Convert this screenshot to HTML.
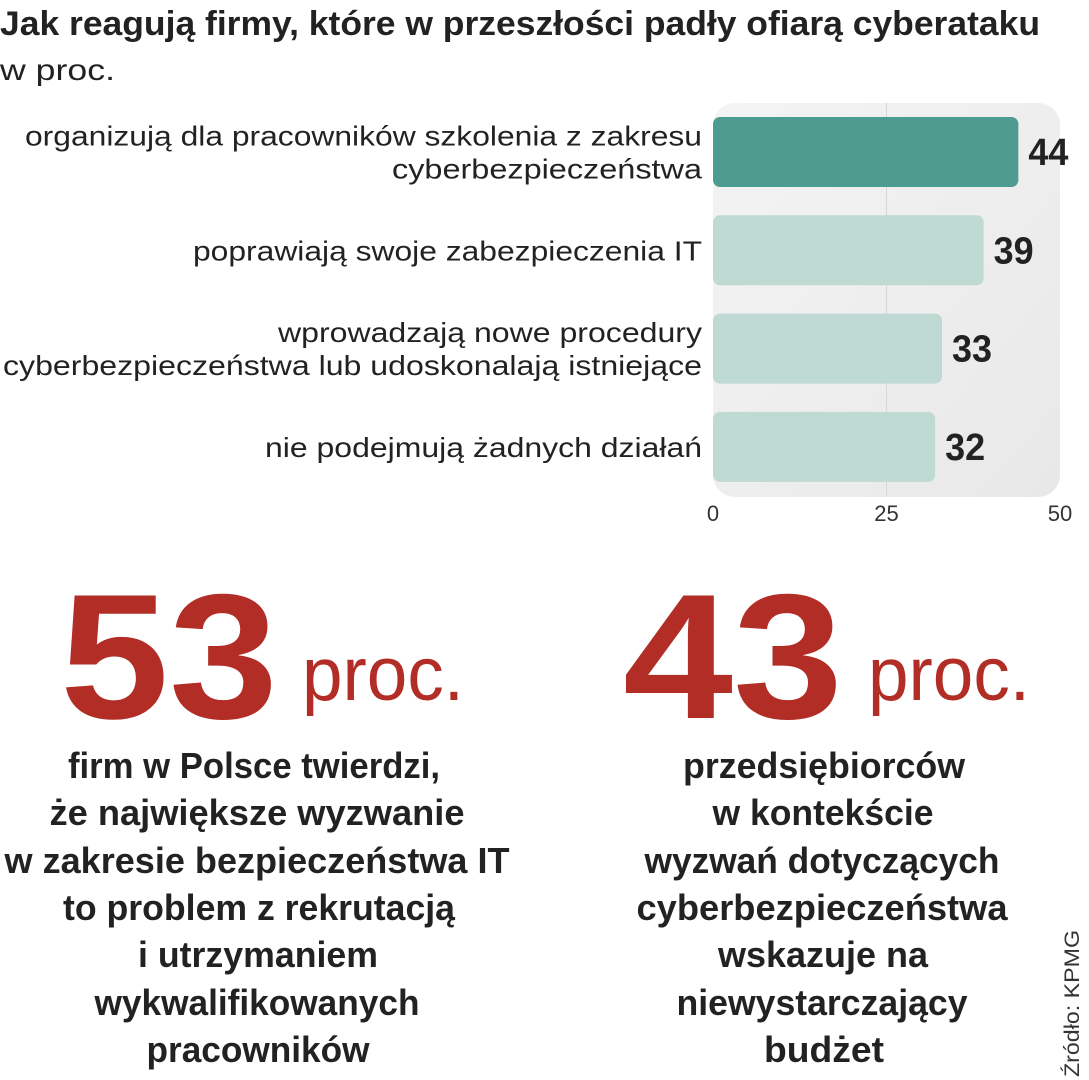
<!DOCTYPE html>
<html><head><meta charset="utf-8"><style>
html,body{margin:0;padding:0;background:#fff;}
svg{display:block;}
text{font-family:"Liberation Sans",sans-serif;fill:#222;}
</style></head><body>
<svg id="chart" width="1089" height="1080" viewBox="0 0 1089 1080">
<defs>
<linearGradient id="bg" x1="0" y1="0" x2="1" y2="1">
<stop offset="0" stop-color="#f4f4f4"/><stop offset="1" stop-color="#e8e8e8"/>
</linearGradient>
</defs>
<text x="0" y="35" font-size="34" font-weight="bold" textLength="1040" lengthAdjust="spacingAndGlyphs">Jak reagują firmy, które w przeszłości padły ofiarą cyberataku</text>
<text x="0" y="80" font-size="30" textLength="115" lengthAdjust="spacingAndGlyphs">w proc.</text>
<rect x="713" y="103" width="347" height="394" rx="22" fill="url(#bg)"/>
<g id="grid"></g>
<g id="bars"></g>
<g id="labels"></g>
<g id="ticks"></g>

<text x="60" y="718" font-size="178" font-weight="bold" style="fill:#b22d25" textLength="218" lengthAdjust="spacingAndGlyphs">53</text>
<text x="302" y="700" font-size="76" style="fill:#b22d25" textLength="162" lengthAdjust="spacingAndGlyphs">proc.</text>
<text x="623" y="718" font-size="178" font-weight="bold" style="fill:#b22d25" textLength="220" lengthAdjust="spacingAndGlyphs">43</text>
<text x="868" y="700" font-size="76" style="fill:#b22d25" textLength="162" lengthAdjust="spacingAndGlyphs">proc.</text>

<g id="left-text" font-size="36" font-weight="bold" text-anchor="middle">
<text x="254" y="778" textLength="372" lengthAdjust="spacingAndGlyphs">firm w Polsce twierdzi,</text>
<text x="257" y="825" textLength="415" lengthAdjust="spacingAndGlyphs">że największe wyzwanie</text>
<text x="257" y="873" textLength="505" lengthAdjust="spacingAndGlyphs">w zakresie bezpieczeństwa IT</text>
<text x="259" y="920" textLength="392" lengthAdjust="spacingAndGlyphs">to problem z rekrutacją</text>
<text x="258" y="967" textLength="240" lengthAdjust="spacingAndGlyphs">i utrzymaniem</text>
<text x="257" y="1015" textLength="325" lengthAdjust="spacingAndGlyphs">wykwalifikowanych</text>
<text x="258" y="1062" textLength="223" lengthAdjust="spacingAndGlyphs">pracowników</text>
</g>
<g id="right-text" font-size="36" font-weight="bold" text-anchor="middle">
<text x="824" y="778" textLength="282" lengthAdjust="spacingAndGlyphs">przedsiębiorców</text>
<text x="823" y="825" textLength="221" lengthAdjust="spacingAndGlyphs">w kontekście</text>
<text x="822" y="873" textLength="355" lengthAdjust="spacingAndGlyphs">wyzwań dotyczących</text>
<text x="822" y="920" textLength="371" lengthAdjust="spacingAndGlyphs">cyberbezpieczeństwa</text>
<text x="823" y="967" textLength="210" lengthAdjust="spacingAndGlyphs">wskazuje na</text>
<text x="822" y="1015" textLength="291" lengthAdjust="spacingAndGlyphs">niewystarczający</text>
<text x="824" y="1062" textLength="120" lengthAdjust="spacingAndGlyphs">budżet</text>
</g>
<text transform="translate(1079,1077) rotate(-90)" font-size="21" textLength="147" lengthAdjust="spacingAndGlyphs" style="fill:#333">Źródło: KPMG</text>
</svg>
<script>
const categories = [
  ["organizują dla pracowników szkolenia z zakresu","cyberbezpieczeństwa"],
  ["poprawiają swoje zabezpieczenia IT"],
  ["wprowadzają nowe procedury","cyberbezpieczeństwa lub udoskonalają istniejące"],
  ["nie podejmują żadnych działań"]
];
const values = [44, 39, 33, 32];
const tickValues = [0, 25, 50];
const tickLabels = ["0", "25", "50"];

const NS = "http://www.w3.org/2000/svg";
const x0 = 713, x1 = 1060, xMax = 50;
const xScale = v => x0 + (v / xMax) * (x1 - x0);
const bandTop = 117, bandStep = 98.3, barH = 70;
const yScale = i => bandTop + i * bandStep;
const labelLens = [[677, 310], [509], [424, 699], [437]];

function mk(tag, attrs, parent) {
  const el = document.createElementNS(NS, tag);
  for (const k in attrs) el.setAttribute(k, attrs[k]);
  parent.appendChild(el);
  return el;
}
const grid = document.getElementById("grid");
const gl = mk("line", {x1: xScale(25), x2: xScale(25), y1: 103, y2: 497, stroke: "#d6d6d6", "stroke-width": 1}, grid);



const bars = document.getElementById("bars");
const labels = document.getElementById("labels");
values.forEach((v, i) => {
  const y = yScale(i);
  const r = mk("rect", {x: x0, y: y, width: xScale(v) - x0, height: barH, rx: 7, fill: i === 0 ? "#4f9b8f" : "#bfd9d3"}, bars);
  
  
  const t = mk("text", {x: xScale(v) + 10, y: y + 48, "font-size": 38, "font-weight": "bold", textLength: 40, lengthAdjust: "spacingAndGlyphs"}, bars);
  t.textContent = String(v);
  
  
  const lines = categories[i];
  const mid = y + barH / 2;
  lines.forEach((ln, j) => {
    const by = mid + 10 + (j - (lines.length - 1) / 2) * 33;
    const lt = mk("text", {x: 702, y: by, "font-size": 28, "text-anchor": "end", textLength: labelLens[i][j], lengthAdjust: "spacingAndGlyphs"}, labels);
    lt.textContent = ln;
    
    
  });
});
const ticks = document.getElementById("ticks");
tickValues.forEach((v, i) => {
  const t = mk("text", {x: xScale(v), y: 521, "font-size": 22, "text-anchor": "middle", style: "fill:#333"}, ticks);
  t.textContent = tickLabels[i];
  
  
});
</script>
</body></html>
